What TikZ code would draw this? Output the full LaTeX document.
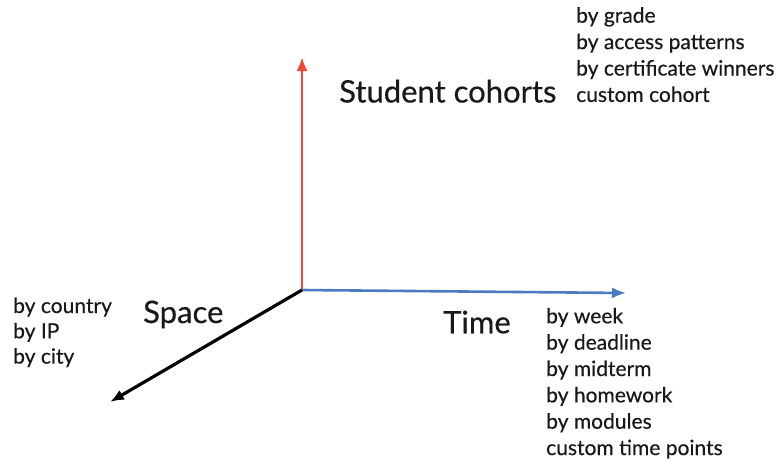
\documentclass[tikz,border=0pt]{standalone}
\usepackage{fontspec}
\setmainfont{Lato}[FakeBold=0.4]
\usetikzlibrary{arrows.meta}
\definecolor{axred}{RGB}{240,72,52}
\definecolor{axblue}{RGB}{74,122,192}
\definecolor{txt}{RGB}{25,25,25}
\begin{document}
\begin{tikzpicture}[x=1pt,y=-1pt,
  lbl/.style={anchor=base west,inner sep=0pt,font=\fontsize{21}{21}\selectfont,text=txt},
  big/.style={anchor=base west,inner sep=0pt,font=\fontsize{31}{31}\selectfont,text=txt},
  axis/.style={line width=2.6pt,-{Latex[length=14pt,width=11pt]}}]
\useasboundingbox (0,0) rectangle (778,463);
\coordinate (O) at (302,290);
\coordinate (up) at (302,57);
\coordinate (tm) at (626,293);
\coordinate (sp) at (110,402);
\draw[axis,axred] (O) -- (up);
\draw[axis,axblue] (O) -- (tm);
\draw[axis,black,line width=3.2pt] (O) -- (sp);
\node[big] (sc) at (339,102.5) {Student cohorts};
\node[big] (space) at (143,323) {Space};
\node[big] (time) at (443,333.3) {Time};
\foreach \t [count=\i] in {by grade,by access patterns,by certificate winners,custom cohort}
  \node[lbl] (c\i) at (576,{22.7+26.4*(\i-1)}) {\t};
\foreach \t [count=\i] in {by country,by IP,by city}
  \node[lbl] (s\i) at (13,{313+25.3*(\i-1)}) {\t};
\foreach \t [count=\i] in {by week,by deadline,by midterm,by homework,by modules,custom time points}
  \node[lbl] (t\i) at (546,{323.3+26.35*(\i-1)}) {\t};
\end{tikzpicture}
\end{document}
